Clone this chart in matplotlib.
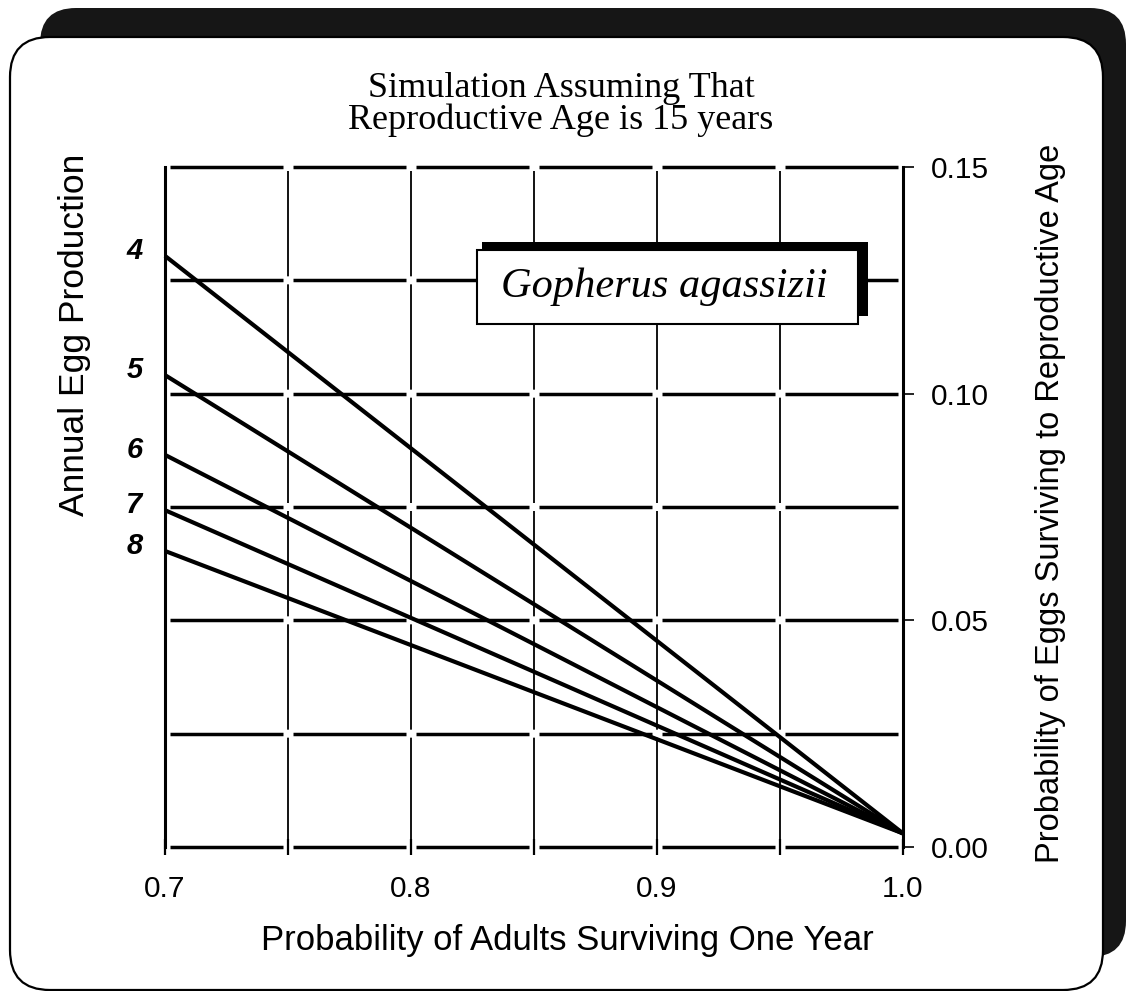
import matplotlib
matplotlib.use("Agg")
import matplotlib.pyplot as plt
from matplotlib.patches import FancyBboxPatch, Rectangle
from matplotlib.ticker import MultipleLocator, FixedLocator

plt.rcParams['lines.scale_dashes'] = False

# ---- data ----
adult_survival = [0.7, 1.0]
egg_production = [4, 5, 6, 7, 8]
egg_surv_at_07 = [0.1304, 0.1041, 0.0865, 0.0743, 0.0653]
egg_surv_at_10 = [0.003, 0.003, 0.003, 0.003, 0.003]
x_ticks = [0.7, 0.8, 0.9, 1.0]
x_tick_labels = ["0.7", "0.8", "0.9", "1.0"]
y_ticks = [0.0, 0.05, 0.10, 0.15]
y_tick_labels = ["0.00", "0.05", "0.10", "0.15"]

W, H = 1128, 991
DPI = 100
fig = plt.figure(figsize=(W / DPI, H / DPI), dpi=DPI)
fig.patch.set_facecolor("white")

# ---- background frame (rounded panel with dark shadow) ----
bg = fig.add_axes([0, 0, 1, 1], zorder=0)
bg.set_xlim(0, W)
bg.set_ylim(H, 0)
bg.axis("off")
shadow = FancyBboxPatch((40, 8), 1086, 949, boxstyle="round,pad=0,rounding_size=36",
                        facecolor="#161616", edgecolor="none")
bg.add_patch(shadow)
panel = FancyBboxPatch((10, 37), 1093, 953, boxstyle="round,pad=0,rounding_size=40",
                       facecolor="white", edgecolor="black", linewidth=1.6)
bg.add_patch(panel)

# ---- main axes ----
L, R, T, B = 165, 903, 167, 847
ax = fig.add_axes([L / W, 1 - B / H, (R - L) / W, (B - T) / H], zorder=2)
ax.set_facecolor("none")
ax.set_xlim(0.7, 1.0)
ax.set_ylim(0.0, 0.15)

for s in ("top", "bottom"):
    ax.spines[s].set_visible(False)
for s in ("left", "right"):
    ax.spines[s].set_linewidth(2.2)

ax.xaxis.set_major_locator(FixedLocator(x_ticks))
ax.set_xticklabels(x_tick_labels)
ax.xaxis.set_minor_locator(MultipleLocator(0.05))
ax.yaxis.tick_right()
ax.yaxis.set_major_locator(FixedLocator(y_ticks))
ax.set_yticklabels(y_tick_labels)
ax.yaxis.set_minor_locator(MultipleLocator(0.025))

ax.tick_params(axis="x", which="both", direction="inout", length=12, width=1.6,
               labelsize=21.5, pad=14)
ax.tick_params(axis="y", which="major", direction="out", length=8, width=1.2,
               labelsize=21.5, pad=12, left=False, right=True)
ax.tick_params(axis="y", which="minor", length=0, left=False, right=False)
for lab in ax.get_xticklabels() + ax.get_yticklabels():
    lab.set_fontfamily("Liberation Sans")

# dashed grid with gaps at crossings
px2pt = 72.0 / DPI
hx_sp = (R - L) / 6 * px2pt
h_gap = 10 * px2pt
h_on = hx_sp - h_gap
vy_sp = (B - T) / 6 * px2pt
v_gap = 8 * px2pt
v_on = vy_sp - v_gap

ax.yaxis.grid(True, which="both", color="black", linewidth=2.5,
              linestyle=(h_on + h_gap / 2, (h_on, h_gap)))
ax.xaxis.grid(True, which="both", color="black", linewidth=1.3,
              linestyle=(v_on + v_gap / 2, (v_on, v_gap)))
for tick in ax.yaxis.get_major_ticks() + ax.yaxis.get_minor_ticks():
    tick.gridline.set_clip_on(False)
    tick.gridline.set_dash_capstyle("butt")
for tick in ax.xaxis.get_major_ticks() + ax.xaxis.get_minor_ticks():
    tick.gridline.set_dash_capstyle("butt")

# ---- data lines ----
for n, y0, y1 in zip(egg_production, egg_surv_at_07, egg_surv_at_10):
    ax.plot(adult_survival, [y0, y1], color="black", linewidth=3.0,
            solid_capstyle="butt", zorder=3, clip_on=False)
    ax.annotate(str(n), xy=(adult_survival[0], y0), xytext=(-22, -2),
                textcoords="offset points", ha="center", va="baseline",
                fontsize=21, fontweight="bold", fontstyle="italic",
                family="Liberation Sans", annotation_clip=False)

# ---- species box ----
def ax_x(px):
    return (px - L) / (R - L)

def ax_y(py):
    return (B - py) / (B - T)

ax.add_patch(Rectangle((ax_x(482), ax_y(316)), ax_x(868) - ax_x(482), ax_y(242) - ax_y(316),
                       transform=ax.transAxes, facecolor="black", edgecolor="none",
                       zorder=4))
ax.add_patch(Rectangle((ax_x(477), ax_y(324)), ax_x(858) - ax_x(477), ax_y(250) - ax_y(324),
                       transform=ax.transAxes, facecolor="white", edgecolor="black",
                       linewidth=1.5, zorder=5))
ax.text((ax_x(477) + ax_x(858)) / 2 - 0.005, (ax_y(324) + ax_y(250)) / 2, "Gopherus agassizii",
        transform=ax.transAxes, ha="center", va="center", fontsize=30.5,
        fontstyle="italic", family="Liberation Serif", zorder=6)

# ---- labels ----
ax.set_xlabel("Probability of Adults Surviving One Year", fontsize=25,
              family="Liberation Sans")
ax.xaxis.set_label_coords(ax_x(567), ax_y(940), transform=ax.transAxes)
ax.xaxis.label.set_va("center")
ax.yaxis.set_label_position("right")
ax.set_ylabel("Probability of Eggs Surviving to Reproductive Age", fontsize=23.5,
              family="Liberation Sans", rotation=90)
ax.yaxis.set_label_coords(ax_x(1050), ax_y(503), transform=ax.transAxes)
ax.yaxis.label.set_va("center")
ax.yaxis.label.set_ha("center")
fig.text(75 / W, 1 - 335 / H, "Annual Egg Production", rotation=90, fontsize=25.5,
         family="Liberation Sans", ha="center", va="center")
fig.text(561 / W, 1 - 97 / H, "Simulation Assuming That", fontsize=26,
         family="Liberation Serif", ha="center", va="baseline")
fig.text(561 / W, 1 - 129 / H, "Reproductive Age is 15 years", fontsize=26,
         family="Liberation Serif", ha="center", va="baseline")

fig.savefig("out.png", dpi=DPI)
